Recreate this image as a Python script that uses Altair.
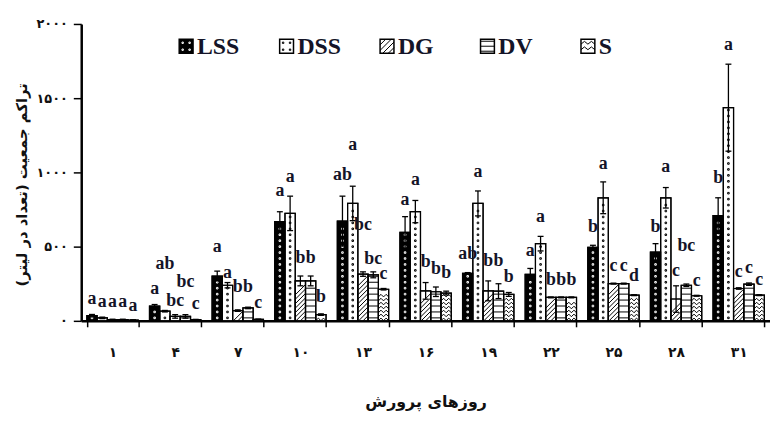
import altair as alt
import pandas as pd

# ---------------- data ----------------
days = ['۱', '۴', '۷', '۱۰', '۱۳', '۱۶', '۱۹', '۲۲', '۲۵', '۲۸', '۳۱']
series = ['LSS', 'DSS', 'DG', 'DV', 'S']

lss = [35, 100, 302, 669, 672, 596, 320, 313, 496, 464, 709]
dss = [20, 65, 240, 724, 791, 736, 791, 520, 829, 829, 1436]
dg = [8, 30, 69, 269, 315, 202, 202, 158, 251, 147, 218]
dv = [8, 30, 87, 269, 310, 196, 200, 158, 251, 240, 247]
s_ = [5, 8, 10, 42, 213, 187, 178, 158, 173, 169, 173]

lss_err = [8, 10, 33, 66, 168, 106, 5, 40, 13, 56, 120]
dss_err = [5, 5, 18, 116, 116, 75, 84, 49, 107, 69, 293]
dg_err = [3, 12, 5, 33, 15, 56, 67, 3, 3, 89, 5]
dv_err = [3, 12, 5, 33, 20, 32, 50, 3, 3, 8, 8]
s_err = [2, 2, 2, 5, 5, 13, 13, 3, 3, 3, 3]

lss_let = ['a', 'a', 'a', 'a', 'ab', 'a', 'ab', 'a', 'b', 'b', 'b']
dss_let = ['a', 'ab', 'a', 'a', 'a', 'a', 'a', 'a', 'a', 'a', 'a']
dg_let = ['a', 'bc', 'b', 'b', 'bc', 'b', 'b', 'b', 'c', 'c', 'c']
dv_let = ['a', 'bc', 'b', 'b', 'bc', 'b', 'b', 'b', 'c', 'bc', 'c']
s_let = ['a', 'c', 'c', 'b', 'c', 'b', 'b', 'b', 'd', 'c', 'c']

# height (in axis units) at which each letter sits
lss_lab = [147, 213, 500, 873, 980, 813, 447, 467, 633, 633, 960]
dss_lab = [127, 380, 320, 967, 1187, 947, 1000, 700, 1053, 1033, 1860]
dg_lab = [127, 133, 227, 420, 647, 393, 400, 273, 367, 333, 327]
dv_lab = [127, 260, 227, 420, 413, 347, 400, 273, 367, 507, 353]
s_lab = [100, 113, 120, 160, 313, 320, 293, 273, 300, 267, 273]

y_ticks = [0, 500, 1000, 1500, 2000]
y_tick_labels = ['۰', '۵۰۰', '۱۰۰۰', '۱۵۰۰', '۲۰۰۰']
y_title = 'تراکم جمعیت (تعداد در لیتر)'
x_title = 'روزهای پرورش'

# ---------------- layout ----------------
W, H = 696, 300
PAD_IN = 0.18
PXU = H / 2000.0
BW = W / 11 * (1 - PAD_IN) / 5  # width of a single bar in px

vals = dict(zip(series, [lss, dss, dg, dv, s_]))
errs = dict(zip(series, [lss_err, dss_err, dg_err, dv_err, s_err]))
lets = dict(zip(series, [lss_let, dss_let, dg_let, dv_let, s_let]))
labs = dict(zip(series, [lss_lab, dss_lab, dg_lab, dv_lab, s_lab]))

rows = []
for i, d in enumerate(days):
    for k in series:
        v, e = vals[k][i], errs[k][i]
        rows.append(dict(day=d, series=k, value=v, lo=max(v - e, 0), hi=v + e,
                         letter=lets[k][i], lab=labs[k][i]))
df = pd.DataFrame(rows)

# repeated pattern elements inside each bar (step px, start px, top margin px)
pat_cfg = {'LSS': (6, 3, 2), 'DSS': (6, 3, 2), 'DG': (4.5, 0, BW / 2),
           'DV': (6, 3, 1.5), 'S': (4, 2, 2)}
pat_rows = []
for r in rows:
    stp, start, margin = pat_cfg[r['series']]
    top = r['value'] * PXU
    p = start
    while p <= top - margin:
        pat_rows.append(dict(day=r['day'], series=r['series'], pos=p / PXU))
        p += stp
pdf = pd.DataFrame(pat_rows)

dot = 'M-0.15,-0.15H0.15V0.15H-0.15Z'
bar_paths = [dot, dot, 'M-1,1L1,-1', 'M-1,0H1', 'M-1,0.35L-0.5,-0.15L0,0.35L0.5,-0.15L1,0.35']
bar_pat_stroke = ['white', 'black', 'black', 'black', 'black']
bar_pat_width = [1, 1, 1.8, 3, 1.1]

ldots = ('M-0.6,-0.6h0.2v0.2h-0.2z M0.4,-0.6h0.2v0.2h-0.2z '
         'M-0.6,0.4h0.2v0.2h-0.2z M0.4,0.4h0.2v0.2h-0.2z')
leg_paths = [ldots, ldots,
             'M-1,-0.2L-0.2,-1 M-1,0.6L0.6,-1 M-0.6,1L1,-0.6 M0.2,1L1,0.2',
             'M-1,-0.72H1 M-1,0H1 M-1,0.72H1',
             'M-1,-0.3L-0.5,-0.7L0,-0.3L0.5,-0.7L1,-0.3 M-1,0.5L-0.5,0.1L0,0.5L0.5,0.1L1,0.5']
leg_stroke = ['white', 'black', 'black', 'black', 'black']
leg_width = [1, 1, 1.5, 2.5, 1.1]
fill_range = ['black', 'white', 'white', 'white', 'white']

# ---------------- scales / axes ----------------
xscale = alt.Scale(domain=days, paddingInner=PAD_IN, paddingOuter=PAD_IN / 2)
yscale = alt.Scale(domain=[0, 2000], nice=False)
offscale = alt.Scale(domain=series, paddingInner=0, paddingOuter=0)

label_expr = '[' + ','.join("'%s'" % t for t in y_tick_labels) + '][datum.value/500]'

xaxis = alt.Axis(title=x_title, labelAngle=0, tickBand='extent', grid=False,
                 domainColor='black', domainWidth=2.5, tickColor='black', tickWidth=1.5,
                 tickSize=6, labelFont='DejaVu Sans', labelFontSize=14, labelFontWeight='bold',
                 labelColor='#111', labelPadding=19, titleFont='DejaVu Sans', titleFontSize=16,
                 titleFontWeight='bold', titleColor='#111', titlePadding=35)
yaxis = alt.Axis(title=y_title, values=y_ticks, labelExpr=label_expr, grid=False,
                 domainColor='black', domainWidth=2.5, tickColor='black', tickWidth=1.5,
                 tickSize=8, labelFont='DejaVu Sans', labelFontSize=13, labelFontWeight='bold',
                 labelColor='#111', labelPadding=6, titleFont='DejaVu Sans', titleFontSize=15,
                 titleFontWeight='bold', titleColor='#111', titleX=-60, titleY=162,
                 titleAngle=270, titleAlign='center', titleBaseline='middle')

X = alt.X('day:N', scale=xscale, axis=xaxis, sort=days)
XO = alt.XOffset('series:N', scale=offscale, sort=series)

base = alt.Chart(df)

bars = base.mark_bar(stroke='black', strokeWidth=1.2).encode(
    x=X, xOffset=XO,
    y=alt.Y('value:Q', scale=yscale, axis=yaxis),
    fill=alt.Fill('series:N', scale=alt.Scale(domain=series, range=fill_range), legend=None),
)

patterns = alt.Chart(pdf).mark_point(filled=False, size=BW * BW, opacity=1, clip=True).encode(
    x=X, xOffset=XO,
    y=alt.Y('pos:Q', scale=yscale, axis=yaxis),
    shape=alt.Shape('series:N', scale=alt.Scale(domain=series, range=bar_paths), legend=None),
    stroke=alt.Stroke('series:N', scale=alt.Scale(domain=series, range=bar_pat_stroke), legend=None),
    strokeWidth=alt.StrokeWidth('series:O', scale=alt.Scale(domain=series, range=bar_pat_width), legend=None),
)

outline = base.mark_bar(fillOpacity=0, stroke='black', strokeWidth=1.2).encode(
    x=X, xOffset=XO, y=alt.Y('value:Q', scale=yscale, axis=yaxis),
)

err = base.mark_rule(color='black', strokeWidth=1.3).encode(
    x=X, xOffset=XO, y=alt.Y('lo:Q', scale=yscale, axis=yaxis), y2='hi:Q',
)
cap_hi = base.mark_point(shape='M-1,0H1', size=36, filled=False, opacity=1,
                         stroke='black', strokeWidth=1.3).encode(
    x=X, xOffset=XO, y=alt.Y('hi:Q', scale=yscale, axis=yaxis),
)
cap_lo = base.mark_point(shape='M-1,0H1', size=36, filled=False, opacity=1,
                         stroke='black', strokeWidth=1.3).encode(
    x=X, xOffset=XO, y=alt.Y('lo:Q', scale=yscale, axis=yaxis),
)

letters = base.mark_text(font='Liberation Serif', fontWeight='bold', fontSize=18,
                         color='#141428', baseline='middle', align='center').encode(
    x=X, xOffset=XO, y=alt.Y('lab:Q', scale=yscale, axis=yaxis), text='letter:N',
)

main = alt.layer(bars, patterns, outline, err, cap_hi, cap_lo, letters)

# ---------------- custom legend ----------------
ldf = pd.DataFrame({'series': series})
LX = alt.X('series:N', scale=alt.Scale(domain=series, range=[106, 512], padding=0), axis=None, sort=series)
lbase = alt.Chart(ldf)
l_sq = lbase.mark_point(shape='square', size=196, filled=True, opacity=1,
                        stroke='black', strokeWidth=1.5).encode(
    x=LX, y=alt.value(22.5),
    fill=alt.Fill('series:N', scale=alt.Scale(domain=series, range=fill_range), legend=None),
)
l_pat = lbase.mark_point(size=196, filled=False, opacity=1).encode(
    x=LX, y=alt.value(22.5),
    shape=alt.Shape('series:N', scale=alt.Scale(domain=series, range=leg_paths), legend=None),
    stroke=alt.Stroke('series:N', scale=alt.Scale(domain=series, range=leg_stroke), legend=None),
    strokeWidth=alt.StrokeWidth('series:O', scale=alt.Scale(domain=series, range=leg_width), legend=None),
)
l_txt = lbase.mark_text(font='Liberation Serif', fontWeight='bold', fontSize=24, color='#141428',
                        align='left', baseline='middle', dx=11).encode(
    x=LX, y=alt.value(23.5), text='series:N',
)
legend = alt.layer(l_sq, l_pat, l_txt)

chart = alt.layer(main, legend).resolve_scale(
    x='independent', fill='independent', shape='independent',
    stroke='independent', strokeWidth='independent',
).properties(
    width=W, height=H,
    autosize=alt.AutoSizeParams(type='none'),
    padding={'left': 74, 'top': 14, 'right': 0, 'bottom': 92},
    background='white',
).configure_view(stroke=None)

chart.save('out.html', embed_options={'renderer': 'svg', 'actions': False})
